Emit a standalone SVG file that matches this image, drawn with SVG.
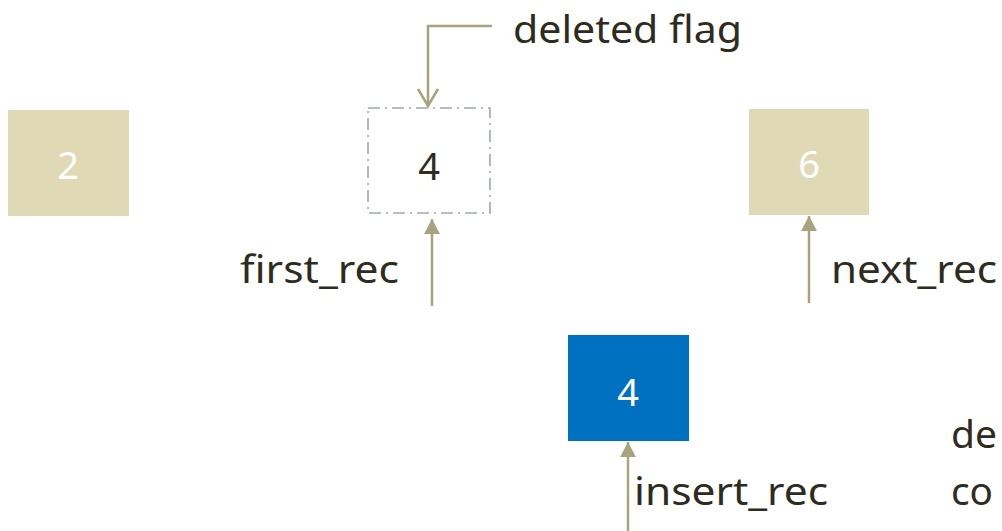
<svg xmlns="http://www.w3.org/2000/svg" width="1002" height="531" viewBox="0 0 1002 531">
<defs>
<style>
.box{fill:#DFDAB5}
.blue{fill:#0070C0}
.del{fill:#fff;stroke:#9FAAA6;stroke-width:1.6;stroke-dasharray:12 5 2 5}
.num{font-family:"Noto Sans","Open Sans",sans-serif;font-size:38px;text-anchor:middle}
.w{fill:#fff}
.d{fill:#2E2B21}
.lbl{font-family:"Noto Sans","Open Sans",sans-serif;font-size:38px;fill:#2E2B21}
.ln{stroke:#A8A37E;stroke-width:2.5;fill:none}
</style>
<marker id="tri" markerUnits="userSpaceOnUse" markerWidth="16" markerHeight="16" viewBox="0 0 16 16" refX="15" refY="8" orient="auto">
<path d="M0,0 L15,8 L0,16 Z" fill="#A8A37E"/>
</marker>
</defs>
<g id="node-2"><rect class="box" x="8" y="110" width="121" height="106"/><text class="num w" x="68" y="179">2</text></g>
<g id="node-4-deleted"><rect class="del" x="368" y="108" width="122" height="105"/><text class="num d" x="429" y="180">4</text></g>
<g id="node-6"><rect class="box" x="749" y="109" width="120" height="106"/><text class="num w" x="809" y="178">6</text></g>
<g id="node-4-insert"><rect class="blue" x="568" y="335" width="121" height="106"/><text class="num w" x="628" y="406">4</text></g>
<g id="connectors">
<polyline class="ln" points="492,26 428,26 428,106"/>
<polyline class="ln" points="418,89 428,106 438,89" stroke-width="2.2"/>
<line class="ln" x1="432" y1="306" x2="432" y2="219" marker-end="url(#tri)"/>
<line class="ln" x1="809" y1="303" x2="809" y2="216" marker-end="url(#tri)"/>
<line class="ln" x1="628" y1="531" x2="628" y2="442" marker-end="url(#tri)"/>
</g>
<g id="labels">
<text class="lbl" x="513" y="43" textLength="229" lengthAdjust="spacingAndGlyphs">deleted flag</text>
<text class="lbl" x="240" y="283" textLength="159" lengthAdjust="spacingAndGlyphs">first_rec</text>
<text class="lbl" x="831" y="283" textLength="166" lengthAdjust="spacingAndGlyphs">next_rec</text>
<text class="lbl" x="634" y="505" textLength="194" lengthAdjust="spacingAndGlyphs">insert_rec</text>
<text class="lbl" x="951" y="448" textLength="46" lengthAdjust="spacingAndGlyphs">de</text>
<text class="lbl" x="951" y="505" textLength="42" lengthAdjust="spacingAndGlyphs">co</text>
</g>
</svg>
